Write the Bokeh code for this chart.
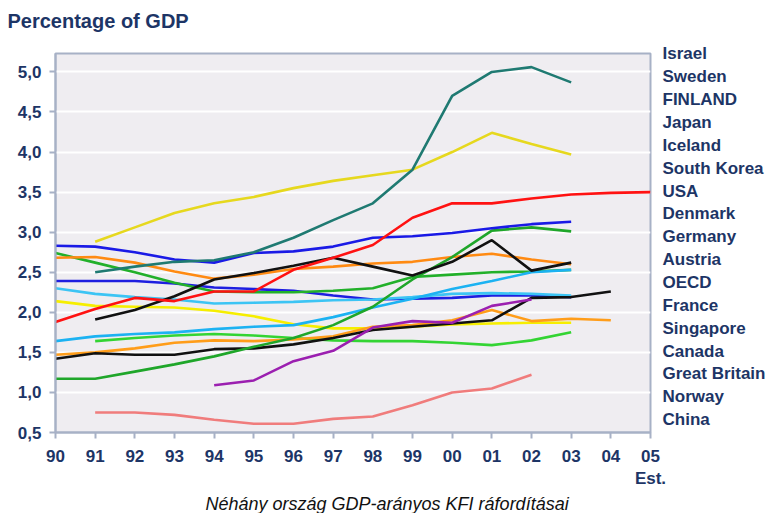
from bokeh.plotting import figure
from bokeh.models import Range1d, FixedTicker, LinearAxis, Title
from bokeh.embed import file_html
from bokeh.resources import INLINE

# ---------------- data (R&D expenditure, % of GDP) ----------------
yr_israel = list(range(1991, 2004))
israel = [2.50, 2.57, 2.63, 2.65, 2.75, 2.93, 3.15, 3.36, 3.78, 4.70, 5.00, 5.06, 4.87]

yr_sweden = list(range(1991, 2004))
sweden = [2.88, 3.06, 3.24, 3.36, 3.44, 3.55, 3.64, 3.71, 3.78, 4.00, 4.24, 4.10, 3.97]

yr_finland = list(range(1990, 2006))
finland = [1.88, 2.04, 2.18, 2.14, 2.26, 2.26, 2.53, 2.68, 2.84, 3.18, 3.36, 3.36, 3.42, 3.47, 3.49, 3.50]

yr_japan = list(range(1990, 2004))
japan = [2.83, 2.82, 2.75, 2.66, 2.62, 2.74, 2.76, 2.82, 2.93, 2.95, 2.99, 3.05, 3.10, 3.13]

yr_iceland = list(range(1990, 2004))
iceland = [1.17, 1.17, 1.26, 1.35, 1.45, 1.57, 1.68, 1.84, 2.07, 2.41, 2.69, 3.02, 3.06, 3.01]

yr_korea = list(range(1991, 2004))
korea = [1.91, 2.03, 2.20, 2.41, 2.49, 2.58, 2.68, 2.57, 2.46, 2.63, 2.90, 2.52, 2.62]

yr_usa = list(range(1990, 2004))
usa = [2.68, 2.69, 2.62, 2.51, 2.42, 2.47, 2.54, 2.57, 2.61, 2.63, 2.69, 2.73, 2.66, 2.60]

yr_denmark = list(range(1990, 2004))
denmark = [1.64, 1.70, 1.73, 1.75, 1.79, 1.82, 1.84, 1.94, 2.06, 2.17, 2.29, 2.39, 2.50, 2.53]

yr_germany = list(range(1990, 2004))
germany = [2.74, 2.62, 2.50, 2.37, 2.26, 2.25, 2.25, 2.27, 2.30, 2.44, 2.47, 2.50, 2.51, 2.53]

yr_austria = list(range(1990, 2005))
austria = [1.42, 1.49, 1.47, 1.47, 1.54, 1.55, 1.60, 1.68, 1.78, 1.82, 1.86, 1.90, 2.18, 2.19, 2.26]

yr_oecd = list(range(1990, 2004))
oecd = [2.30, 2.23, 2.19, 2.16, 2.11, 2.12, 2.13, 2.15, 2.16, 2.19, 2.23, 2.24, 2.23, 2.21]

yr_france = list(range(1990, 2004))
france = [2.39, 2.39, 2.39, 2.36, 2.31, 2.29, 2.27, 2.21, 2.16, 2.17, 2.18, 2.21, 2.21, 2.19]

yr_singapore = list(range(1994, 2003))
singapore = [1.09, 1.15, 1.39, 1.52, 1.81, 1.89, 1.87, 2.08, 2.16]

yr_canada = list(range(1990, 2005))
canada = [1.47, 1.50, 1.55, 1.62, 1.65, 1.64, 1.66, 1.70, 1.82, 1.84, 1.90, 2.03, 1.89, 1.92, 1.90]

yr_gb = list(range(1990, 2004))
great_britain = [2.14, 2.08, 2.07, 2.06, 2.02, 1.95, 1.85, 1.80, 1.80, 1.82, 1.85, 1.86, 1.87, 1.87]

yr_norway = list(range(1991, 2004))
norway = [1.64, 1.68, 1.71, 1.73, 1.71, 1.68, 1.65, 1.64, 1.64, 1.62, 1.59, 1.65, 1.75]

yr_china = list(range(1991, 2003))
china = [0.75, 0.75, 0.72, 0.66, 0.61, 0.61, 0.67, 0.70, 0.84, 1.00, 1.05, 1.22]

legend_labels = ["Israel", "Sweden", "FINLAND", "Japan", "Iceland", "South Korea", "USA",
                 "Denmark", "Germany", "Austria", "OECD", "France", "Singapore", "Canada",
                 "Great Britain", "Norway", "China"]

y_ticks = [0.5, 1.0, 1.5, 2.0, 2.5, 3.0, 3.5, 4.0, 4.5, 5.0]
y_tick_labels = ["0,5", "1,0", "1,5", "2,0", "2,5", "3,0", "3,5", "4,0", "4,5", "5,0"]
x_ticks = list(range(1990, 2006))
x_tick_labels = ["90", "91", "92", "93", "94", "95", "96", "97", "98", "99",
                 "00", "01", "02", "03", "04", "05\nEst."]

title_text = "Percentage of GDP"
caption_text = "Néhány ország GDP-arányos KFI ráfordításai"

# ---------------- figure ----------------
W, H = 768, 513
L, R, T, B = 55, 118, 53, 77
X0, X1 = 1990, 2005
Y0, Y1 = 0.5, 5.23
fh = H - T - B

# legend slots: one slot per name
slot = 23.1
leg_top = 0.02
leg_range = Range1d(start=leg_top - fh / slot, end=leg_top)

p = figure(width=W, height=H, output_backend="svg", toolbar_location=None,
           x_range=Range1d(X0, X1), y_range=Range1d(Y0, Y1),
           min_border_left=L, min_border_right=R, min_border_top=T, min_border_bottom=B,
           extra_y_ranges={"legend": leg_range})

p.background_fill_color = "#efedf1"
p.border_fill_color = "white"
p.outline_line_color = "#a7b1c6"
p.outline_line_width = 2

navy = "#1d3566"
for ax in (p.xaxis[0], p.yaxis[0]):
    ax.axis_line_color = "#a7b1c6"
    ax.axis_line_width = 2
    ax.major_tick_line_color = "#a7b1c6"
    ax.major_tick_line_width = 2
    ax.major_tick_out = 6
    ax.major_tick_in = 0
    ax.minor_tick_line_color = None
    ax.major_label_text_font = "Liberation Sans"
    ax.major_label_text_font_style = "bold"
    ax.major_label_text_font_size = "17px"
    ax.major_label_text_color = navy
    ax.major_label_standoff = 8

p.yaxis.ticker = FixedTicker(ticks=y_ticks)
p.yaxis.major_label_overrides = {t: s for t, s in zip(y_ticks, y_tick_labels)}
p.xaxis.ticker = FixedTicker(ticks=x_ticks)
p.xaxis.major_label_overrides = {t: s for t, s in zip(x_ticks, x_tick_labels)}

p.xgrid.visible = False
p.ygrid.ticker = FixedTicker(ticks=y_ticks)
p.ygrid.grid_line_color = "white"
p.ygrid.grid_line_width = 2

# country names on the right
leg_ticks = [-i for i in range(len(legend_labels))]
leg_axis = LinearAxis(y_range_name="legend", ticker=FixedTicker(ticks=leg_ticks),
                      major_label_overrides={t: s for t, s in zip(leg_ticks, legend_labels)})
leg_axis.axis_line_color = None
leg_axis.major_tick_line_color = None
leg_axis.minor_tick_line_color = None
leg_axis.major_tick_out = 0
leg_axis.major_tick_in = 0
leg_axis.major_label_standoff = 12
leg_axis.major_label_text_font = "Liberation Sans"
leg_axis.major_label_text_font_style = "bold"
leg_axis.major_label_text_font_size = "17px"
leg_axis.major_label_text_color = navy
p.add_layout(leg_axis, "right")

# title (an empty second line lifts it toward the top edge)
p.title.text = title_text + "\n"
p.title.align = "left"
p.title.offset = 7 - L
p.title.standoff = 0
p.title.text_line_height = 1.0
p.title.text_font = "Liberation Sans"
p.title.text_font_style = "bold"
p.title.text_font_size = "20px"
p.title.text_color = navy

# caption below the axis
caption = Title(text=caption_text, align="left", offset=205 - L, standoff=0,
                text_font="Liberation Sans", text_font_style="italic",
                text_font_size="18px", text_color="#111111")
p.add_layout(caption, "below")

series = [
    (yr_china, china, "#f07c7c"),
    (yr_norway, norway, "#33d433"),
    (yr_gb, great_britain, "#f6ee00"),
    (yr_canada, canada, "#ff9d1a"),
    (yr_france, france, "#1e1ee0"),
    (yr_oecd, oecd, "#3cc4f4"),
    (yr_germany, germany, "#22b02a"),
    (yr_denmark, denmark, "#1cb2f2"),
    (yr_usa, usa, "#ff8a12"),
    (yr_austria, austria, "#111111"),
    (yr_singapore, singapore, "#9b1fb0"),
    (yr_iceland, iceland, "#1fa62a"),
    (yr_korea, korea, "#111111"),
    (yr_japan, japan, "#1a1ae6"),
    (yr_finland, finland, "#ff1212"),
    (yr_sweden, sweden, "#e6d81e"),
    (yr_israel, israel, "#1f7a72"),
]
for xs, ys, c in series:
    p.line(xs, ys, line_color=c, line_width=2.6)

open("out.html", "w").write(file_html(p, INLINE))
